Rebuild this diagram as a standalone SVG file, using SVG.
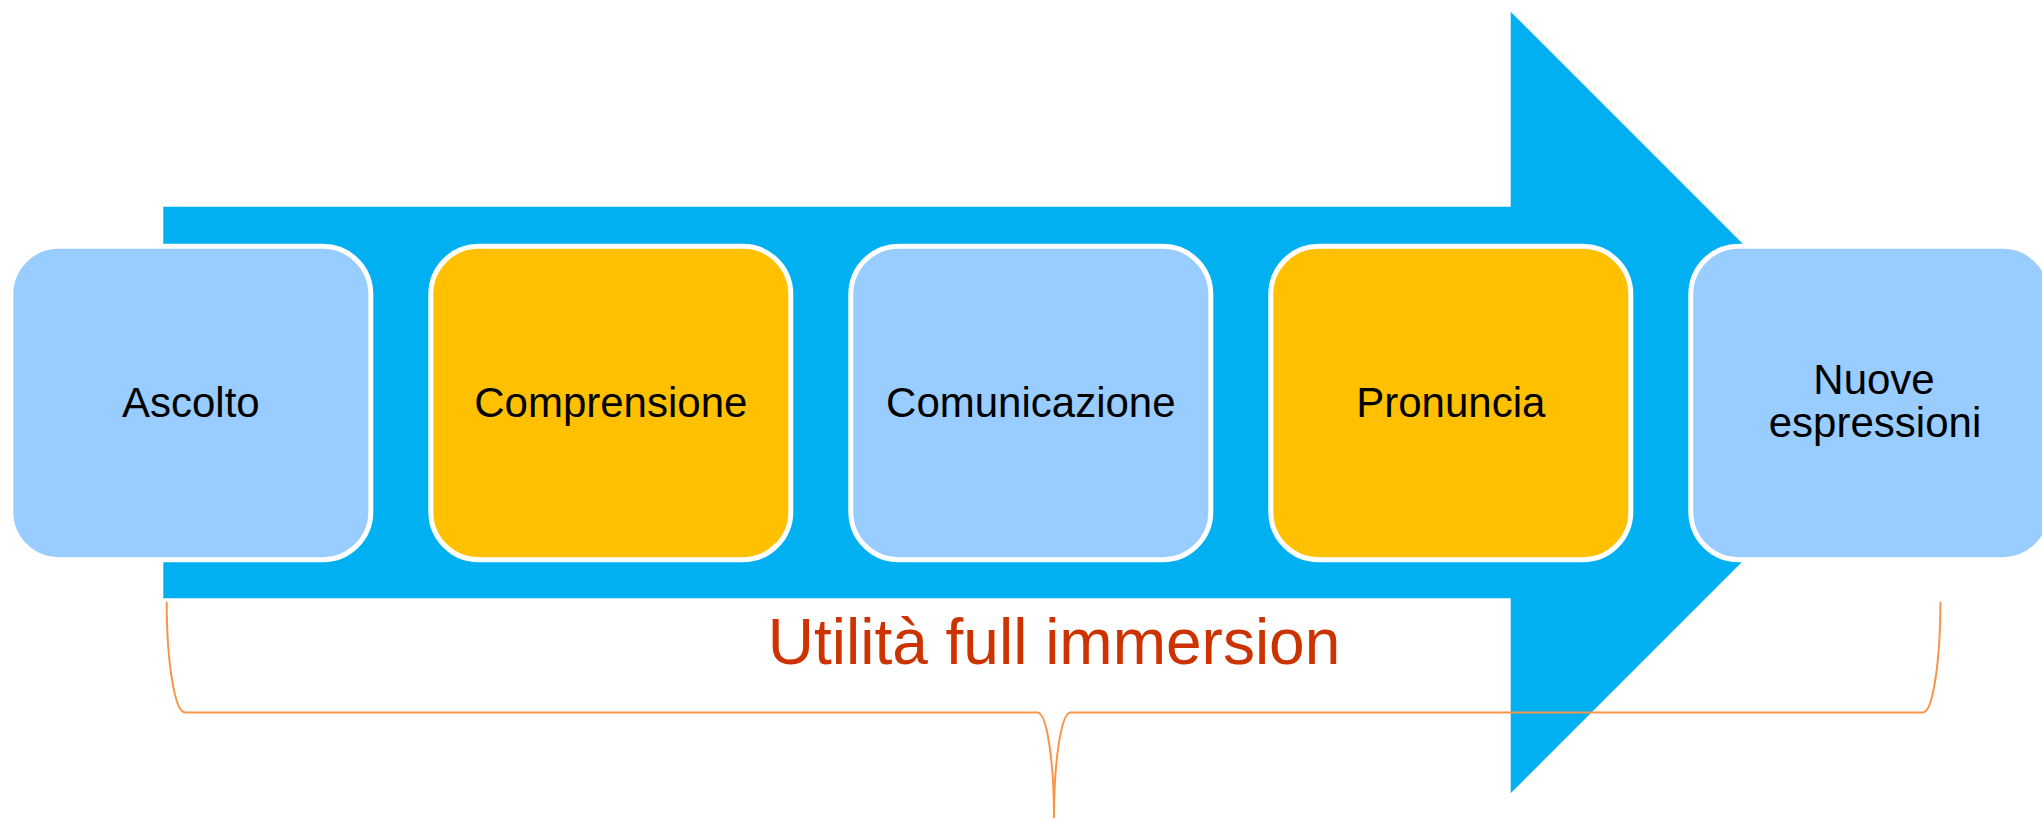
<svg xmlns="http://www.w3.org/2000/svg" width="2042" height="820" viewBox="0 0 2042 820">
  <style>
    .box { stroke: #FFFFFF; stroke-width: 5; }
    .blue { fill: #99CCFF; }
    .yellow { fill: #FFC000; }
    .lbl { font-family: "Liberation Sans", Arial, sans-serif; font-size: 42px; fill: #000000; text-anchor: middle; }
    .title { font-family: "Liberation Sans", Arial, sans-serif; font-size: 64px; fill: #CC3300; text-anchor: middle; }
    .brace { fill: none; stroke: #F79646; stroke-width: 2; }
  </style>
  <rect width="2042" height="820" fill="#FFFFFF"/>
  <g id="arrow">
    <polygon points="163.3,206.7 1510.7,206.7 1510.7,11.7 1901.5,402.5 1510.7,793.3 1510.7,598.3 163.3,598.3" fill="#00B0F0"/>
  </g>
  <g id="node-ascolto">
    <rect class="box blue" x="10.8" y="246.3" width="360" height="313.4" rx="48" ry="48"/>
    <text class="lbl" x="190.8" y="417">Ascolto</text>
  </g>
  <g id="node-comprensione">
    <rect class="box yellow" x="430.8" y="246.3" width="360" height="313.4" rx="48" ry="48"/>
    <text class="lbl" x="610.8" y="417">Comprensione</text>
  </g>
  <g id="node-comunicazione">
    <rect class="box blue" x="850.8" y="246.3" width="360" height="313.4" rx="48" ry="48"/>
    <text class="lbl" x="1030.8" y="417">Comunicazione</text>
  </g>
  <g id="node-pronuncia">
    <rect class="box yellow" x="1270.8" y="246.3" width="360" height="313.4" rx="48" ry="48"/>
    <text class="lbl" x="1450.8" y="417">Pronuncia</text>
  </g>
  <g id="node-nuove">
    <rect class="box blue" x="1690.8" y="246.3" width="360" height="313.4" rx="48" ry="48"/>
    <text class="lbl" x="1874" y="394">Nuove</text>
    <text class="lbl" x="1875" y="437">espressioni</text>
  </g>
  <g id="connectors">
    <path class="brace" d="M166.7,601.7 A18.3,110.7 0 0 0 185,712.4 L1037.5,712.4 A16.5,105.6 0 0 1 1054,818 A16.5,105.6 0 0 1 1070.5,712.4 L1923,712.4 A17.4,110.7 0 0 0 1940.4,601.7"/>
  </g>
  <g id="label-utilita">
    <text class="title" x="1054" y="664">Utilità full immersion</text>
  </g>
</svg>
